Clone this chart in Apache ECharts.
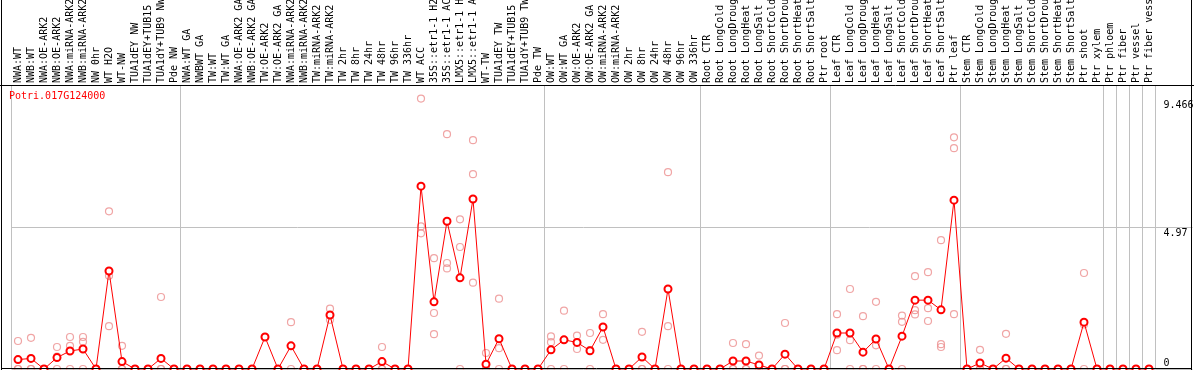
<!DOCTYPE html>
<html><head><meta charset="utf-8">
<script src="https://cdn.jsdelivr.net/npm/echarts@6/dist/echarts.min.js"></script>
<style>html,body{margin:0;padding:0;background:#fff}#c{width:1194px;height:370px}</style>
</head><body><div id="c"></div>
<script>
const geneId = 'Potri.017G124000';

const categories = [
  'NWA:WT','NWB:WT','NWA:OE-ARK2','NWB:OE-ARK2','NWA:miRNA-ARK2','NWB:miRNA-ARK2','NW 0hr','WT H2O','WT-NW','TUA1dEY NW','TUA1dEY+TUB15','TUA1dY+TUB9 NW','Pde NW',
  'NWA:WT GA','NWBWT GA','TW:WT','TW:WT GA','NWA:OE-ARK2 GA','NWB:OE-ARK2 GA','TW:OE-ARK2','TW:OE-ARK2 GA','NWA:miRNA-ARK2','NWB:miRNA-ARK2','TW:miRNA-ARK2','TW:miRNA-ARK2','TW 2hr','TW 8hr','TW 24hr','TW 48hr','TW 96hr','TW 336hr','WT ACC','35S::etr1-1 H2','35S::etr1-1 AC','LMX5::etr1-1 H','LMX5::etr1-1 A','WT-TW','TUA1dEY TW','TUA1dEY+TUB15','TUA1dY+TUB9 TW','Pde TW',
  'OW:WT','OW:WT GA','OW:OE-ARK2','OW:OE-ARK2 GA','OW:miRNA-ARK2','OW:miRNA-ARK2','OW 2hr','OW 8hr','OW 24hr','OW 48hr','OW 96hr','OW 336hr',
  'Root CTR','Root LongCold','Root LongDroug','Root LongHeat','Root LongSalt','Root ShortCold','Root ShortDrou','Root ShortHeat','Root ShortSalt','Ptr root',
  'Leaf CTR','Leaf LongCold','Leaf LongDroug','Leaf LongHeat','Leaf LongSalt','Leaf ShortCold','Leaf ShortDrou','Leaf ShortHeat','Leaf ShortSalt','Ptr leaf',
  'Stem CTR','Stem LongCold','Stem LongDroug','Stem LongHeat','Stem LongSalt','Stem ShortCold','Stem ShortDrou','Stem ShortHeat','Stem ShortSalt','Ptr shoot','Ptr xylem',
  'Ptr phloem','Ptr fiber','Ptr vessel','Ptr fiber vess'
];

// index of first category in each separated group
const groupStarts = [0, 13, 41, 53, 63, 73, 84, 85, 86, 87];

const meanValues = [
  0.33,0.37,0,0.40,0.63,0.70,0,3.43,0.26,0,0,0.37,0,
  0,0,0,0,0,0,1.12,0,0.81,0,0,1.89,0,0,0,0.26,0,0,6.40,2.35,5.17,3.19,5.95,0.17,1.06,0,0,0,
  0.67,1.02,0.93,0.64,1.47,0,0,0.42,0,2.80,0,0,
  0,0,0.28,0.28,0.14,0,0.52,0,0,0,
  1.26,1.26,0.59,1.05,0,1.15,2.41,2.41,2.07,5.91,
  0,0.21,0,0.38,0,0,0,0,0,1.64,0,
  0,0,0,0
];

const rep1 = [
  0.98,1.09,0,0.77,1.12,1.12,0,5.52,0.81,0,0,2.52,0,
  0,0,0,0,0,0,1.12,0,1.64,0,0,2.11,0,0,0,0.77,0,0,9.466,3.88,8.22,5.24,8.01,0.56,2.46,0,0,0,
  1.14,2.04,1.17,1.26,1.92,0,0,1.30,0,6.89,0,0,
  0,0,0.91,0.87,0.47,0,1.61,0,0,0,
  1.92,2.80,1.85,2.35,0,1.87,3.25,3.39,4.51,8.11,
  0,0.67,0,1.23,0,0,0,0,0,3.36,0,
  0,0,0,0
];
const rep2 = [
  0,0,0,0.43,0.81,0.95,0,3.26,0,0,0,0,0,
  0,0,0,0,0,0,null,0,0,0,0,1.72,0,0,0,0,0,0,4.99,1.96,3.71,4.27,6.82,0,0.73,0,0,0,
  0.94,1.02,0.93,0.66,1.02,0,0,0,0,1.50,0,0,
  0,0,0,0,0,0,0,0,0,0,
  1.20,1.01,0,0.83,0,1.65,2.06,2.13,0.87,7.73,
  0,0,0,0,0,0,0,0,0,1.56,0,
  0,0,0,0
];
const rep3 = [
  0,0,0,0,0,0,0,1.50,0,0,0,0,0,
  0,0,0,0,0,0,null,0,null,0,0,null,0,0,0,0,0,0,4.75,1.22,3.52,0,3.02,0,0,0,0,0,
  0,0,0.70,0,null,0,0,0,0,0,0,0,
  0,0,0,0,0,0,0,0,0,0,
  0.66,0,0,0,0,0,1.91,1.68,0.77,1.92,
  0,0,0,0,0,0,0,0,0,0,0,
  0,0,0,0
];

const yAxisMax = 9.94;
const yAxisMid = 4.97;
const yAxisTopLabel = 9.466;

const repPoints = [];
[rep1, rep2, rep3].forEach(arr => arr.forEach((v, i) => { if (v !== null) repPoints.push([i, v]); }));

const FONT = 'DejaVu Sans Mono';
const GRAY = '#c0c0c0';
const isGroupStart = (i) => groupStarts.indexOf(i) >= 0;

const chart = echarts.init(document.getElementById('c'), null, {renderer: 'canvas'});
chart.setOption({
  animation: false,
  backgroundColor: '#fff',
  title: {
    text: geneId, left: 9, top: 91, padding: 0,
    textStyle: {fontSize: 10, fontFamily: FONT, color: '#ff0000', fontWeight: 'normal'}
  },
  grid: {left: 11.5, right: 38.5, top: 85, bottom: 1, containLabel: false, outerBoundsMode: 'none'},
  xAxis: {
    type: 'category', data: categories, position: 'top', boundaryGap: true,
    axisLine: {show: false},
    axisTick: {show: true, inside: false, length: 85, interval: isGroupStart, lineStyle: {color: GRAY, width: 1}},
    splitLine: {show: true, interval: isGroupStart, lineStyle: {color: GRAY, width: 1}},
    axisLabel: {interval: 0, rotate: 90, margin: 2, fontSize: 10, fontFamily: FONT, color: '#000', hideOverlap: false}
  },
  yAxis: {
    type: 'value', position: 'right', min: 0, max: yAxisMax, interval: yAxisMid,
    axisLine: {show: false},
    axisTick: {show: true, inside: false, length: 37, lineStyle: {color: GRAY, width: 1}},
    splitLine: {show: true, lineStyle: {color: GRAY, width: 1}},
    axisLabel: {
      customValues: [0, yAxisMid, yAxisTopLabel],
      margin: 8, align: 'left', color: '#000', fontSize: 10, fontFamily: FONT,
      formatter: v => v === 0 ? '{b|0}' : '{t|' + v + '}',
      rich: {
        b: {padding: [0, 0, 12, 0], fontSize: 10, fontFamily: FONT, color: '#000'},
        t: {padding: [13, 0, 0, 0], fontSize: 10, fontFamily: FONT, color: '#000'}
      }
    }
  },
  series: [
    {
      type: 'scatter', data: repPoints, symbol: 'circle', symbolSize: 7, z: 2,
      itemStyle: {color: 'rgba(255,255,255,0)', borderColor: '#ec8e8e', borderWidth: 1.2}
    },
    {
      type: 'line', data: meanValues, symbol: 'emptyCircle', symbolSize: 7, z: 3,
      lineStyle: {color: '#ff0000', width: 1},
      itemStyle: {color: '#ff0000', borderColor: '#ff0000', borderWidth: 1.4}
    }
  ],
  graphic: [
    {type: 'line', z: 100, shape: {x1: 1.5, y1: 0, x2: 1.5, y2: 370}, style: {stroke: '#000', lineWidth: 1}},
    {type: 'line', z: 100, shape: {x1: 1191.5, y1: 0, x2: 1191.5, y2: 370}, style: {stroke: '#000', lineWidth: 1}},
    {type: 'line', z: 100, shape: {x1: 0, y1: 85.5, x2: 1194, y2: 85.5}, style: {stroke: '#000', lineWidth: 1}},
    {type: 'line', z: 100, shape: {x1: 1, y1: 368.5, x2: 1192, y2: 368.5}, style: {stroke: '#000', lineWidth: 1}}
  ]
});
</script>
</body></html>
